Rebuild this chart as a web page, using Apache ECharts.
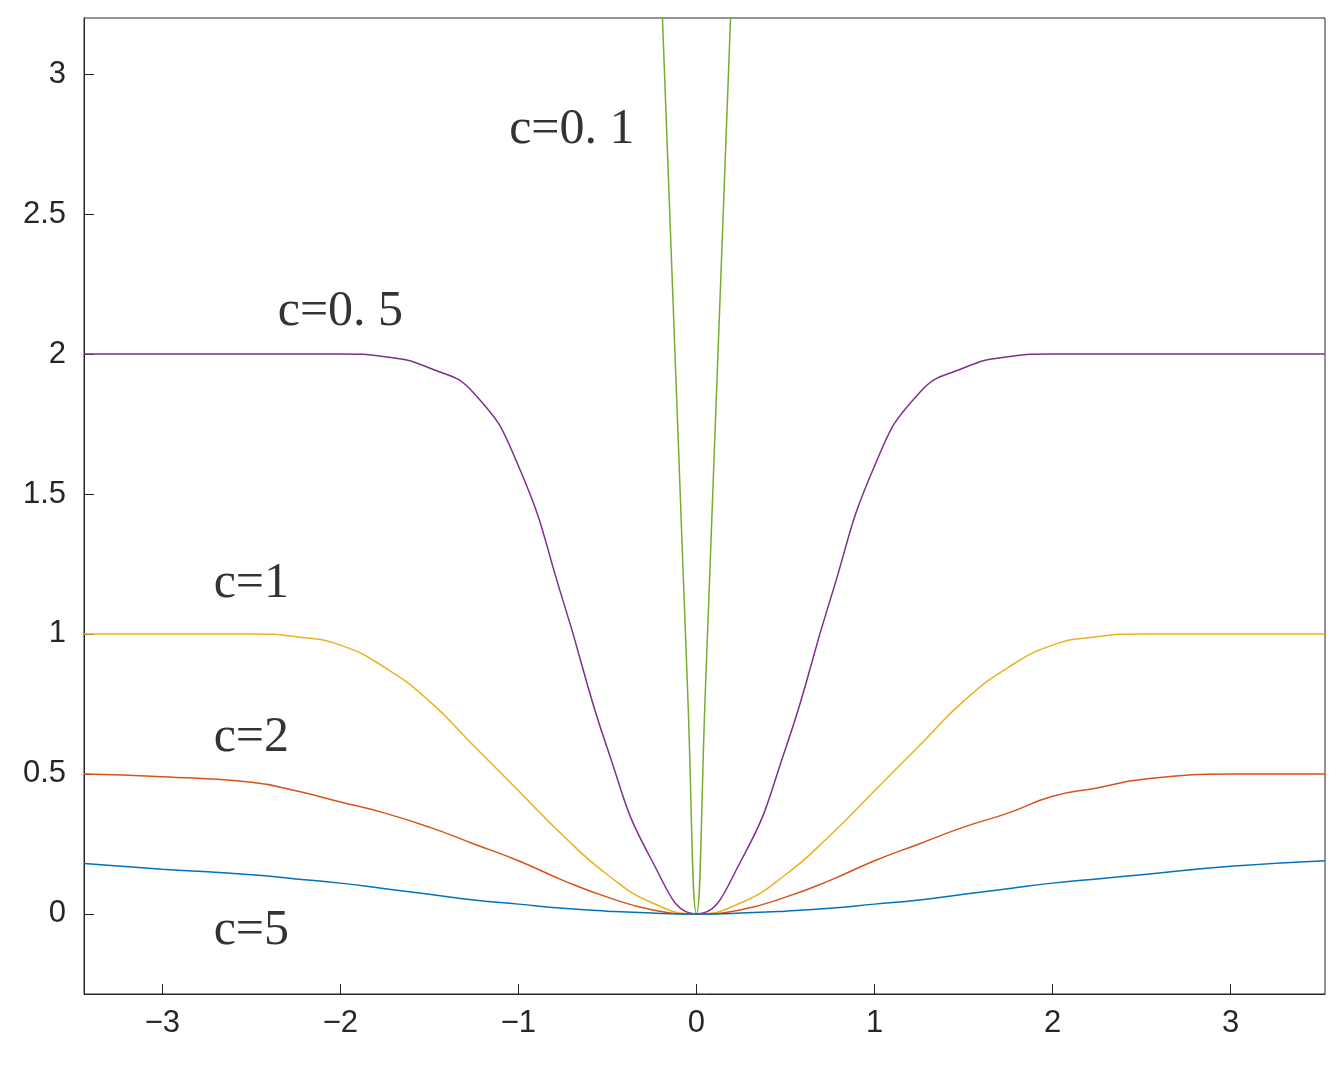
<!DOCTYPE html>
<html><head><meta charset="utf-8">
<script src="https://cdn.jsdelivr.net/npm/echarts@6/dist/echarts.min.js"></script>
<style>body{margin:0}#c{width:1336px;height:1072px}</style></head>
<body><div id="c"></div>
<script>
const xs = [-3.44,-3,-2.5,-2.25,-2,-1.75,-1.5,-1.25,-1,-0.75,-0.5,-0.25,0,0.25,0.5,0.75,1,1.25,1.5,1.75,2,2.25,2.5,3,3.53];
const c05 = [2,2,2,2,2,1.99,1.95,1.86,1.6,1.12,0.59,0.19,0,0.19,0.59,1.12,1.6,1.86,1.95,1.99,2,2,2,2,2];
const c1  = [1,1,1,0.99,0.96,0.88,0.76,0.6,0.44,0.28,0.14,0.04,0,0.04,0.14,0.28,0.44,0.6,0.76,0.88,0.96,0.99,1,1,1];
const c2  = [0.5,0.49,0.47,0.44,0.4,0.36,0.31,0.25,0.19,0.12,0.06,0.015,0,0.015,0.06,0.12,0.19,0.25,0.31,0.36,0.42,0.45,0.48,0.5,0.5];
const c5  = [0.18,0.16,0.14,0.125,0.11,0.09,0.07,0.05,0.035,0.02,0.01,0.003,0,0.003,0.01,0.02,0.035,0.05,0.07,0.09,0.11,0.125,0.14,0.17,0.19];
const xs01 = [-0.2,-0.1,-0.05,0,0.05,0.1,0.2];
const c01 = [3.35,1.65,0.8,0,0.8,1.65,3.35];
const labels = [["c=0. 1",-0.7,2.8],["c=0. 5",-2.0,2.15],["c=1",-2.5,1.18],["c=2",-2.5,0.63],["c=5",-2.5,-0.06]];
const xTicks=[-3,-2,-1,0,1,2,3], yTicks=[0,0.5,1,1.5,2,2.5,3];
const pair=(a,b)=>a.map((x,i)=>[x,b[i]]);
const ln=(d,col)=>({type:'line',data:d,smooth:0.5,showSymbol:false,lineStyle:{color:col,width:1.5},z:2});
const chart=echarts.init(document.getElementById('c'));
const lab={fontSize:31,color:'#262626',fontFamily:'Liberation Sans'};
chart.setOption({
 animation:false,
 grid:{left:84,right:11,top:18,bottom:78,show:true,borderColor:'#262626',borderWidth:1},
 xAxis:{type:'value',min:-3.44,max:3.53,splitLine:{show:false},
  axisLine:{onZero:false,lineStyle:{color:'#262626'}},
  axisTick:{inside:true,length:10,customValues:xTicks,lineStyle:{color:'#262626'}},
  axisLabel:{...lab,margin:14,customValues:xTicks,formatter:v=>String(v).replace('-','−')}},
 yAxis:{type:'value',min:-0.286,max:3.2,splitLine:{show:false},
  axisLine:{show:true,onZero:false,lineStyle:{color:'#262626'}},
  axisTick:{show:true,inside:true,length:10,customValues:yTicks,lineStyle:{color:'#262626'}},
  axisLabel:{...lab,margin:18,customValues:yTicks}},
 series:[
  ln(pair(xs01,c01),'#77AC30'),
  ln(pair(xs,c05),'#7E2F8E'),
  ln(pair(xs,c1),'#EDB120'),
  ln(pair(xs,c2),'#D95319'),
  ln(pair(xs,c5),'#0072BD'),
  {type:'scatter',symbolSize:0,data:labels.map(l=>({value:[l[1],l[2]],name:l[0]})),
   label:{show:true,position:'inside',formatter:p=>p.name,fontSize:50,fontFamily:'Liberation Serif',color:'#000'},z:5}
 ]
});
</script></body></html>
